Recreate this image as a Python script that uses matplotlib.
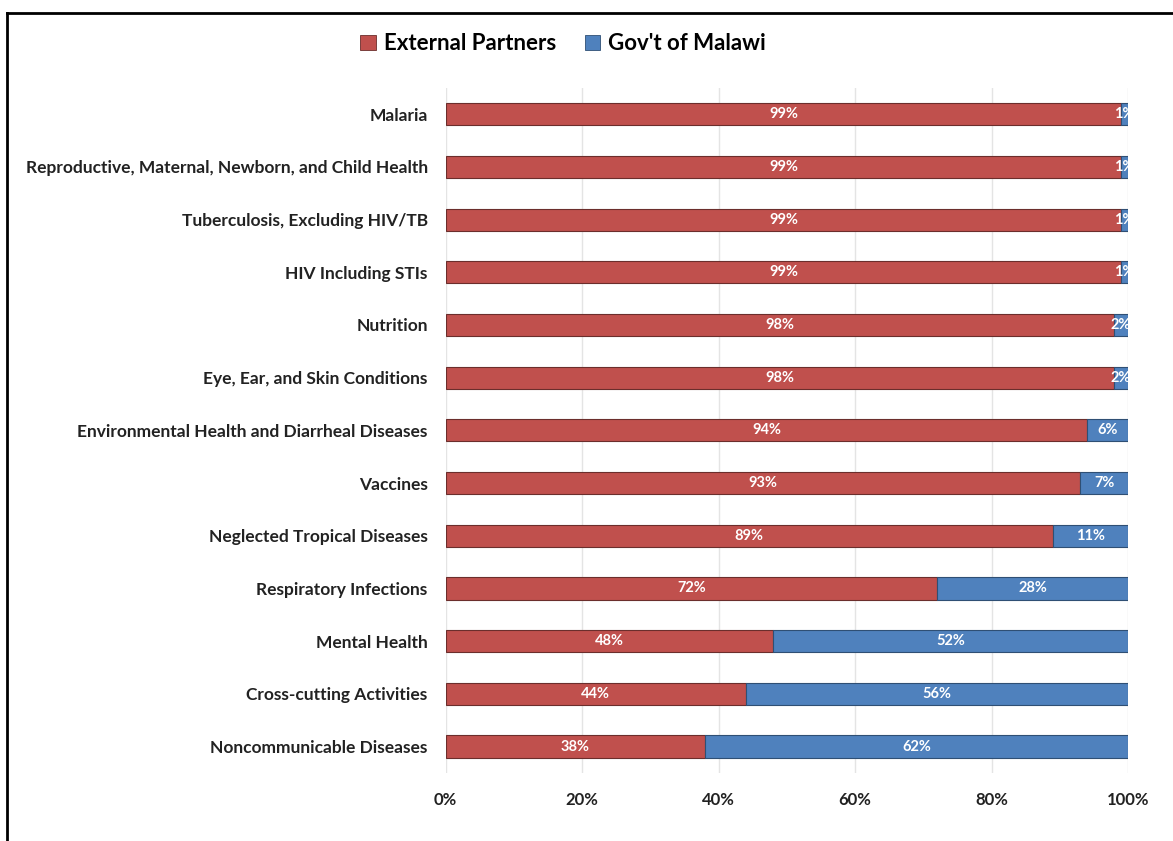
import matplotlib
matplotlib.use("Agg")
import matplotlib.pyplot as plt
from matplotlib.lines import Line2D
from matplotlib.patches import Patch

plt.rcParams['font.family'] = ['Lato', 'DejaVu Sans']

categories = ["Malaria",
              "Reproductive, Maternal, Newborn, and Child Health",
              "Tuberculosis, Excluding HIV/TB",
              "HIV Including STIs",
              "Nutrition",
              "Eye, Ear, and Skin Conditions",
              "Environmental Health and Diarrheal Diseases",
              "Vaccines",
              "Neglected Tropical Diseases",
              "Respiratory Infections",
              "Mental Health",
              "Cross-cutting Activities",
              "Noncommunicable Diseases"]
external = [99, 99, 99, 99, 98, 98, 94, 93, 89, 72, 48, 44, 38]
government = [1, 1, 1, 1, 2, 2, 6, 7, 11, 28, 52, 56, 62]
xticks = [0, 20, 40, 60, 80, 100]

red = "#C0504D"
blue = "#4F81BD"

fig = plt.figure(figsize=(11.73, 8.41), dpi=100)
ax = fig.add_axes([0.380, 0.081, 0.5816, 0.8145])

y = list(range(len(categories)))
ax.barh(y, external, height=0.42, color=red, edgecolor="#6b2e2c", linewidth=0.8, zorder=3)
ax.barh(y, government, left=external, height=0.42, color=blue, edgecolor="#2f4f74",
        linewidth=0.8, zorder=3)

for i in y:
    ax.text(external[i] / 2, i, f"{external[i]}%", ha="center", va="center",
            color="white", fontsize=10.5, fontweight="bold", zorder=4)
    ax.text(external[i] + government[i] / 2, i, f"{government[i]}%", ha="center",
            va="center", color="white", fontsize=10.5, fontweight="bold", zorder=4)

ax.set_ylim(len(categories) - 0.5, -0.5)
ax.set_xlim(0, 100)
ax.set_yticks(y)
ax.set_yticklabels(categories, fontsize=12.5, fontweight="bold", color="#222222")
ax.set_xticks(xticks)
ax.set_xticklabels([f"{t}%" for t in xticks], fontsize=12, fontweight="bold", color="#222222")
ax.tick_params(axis="both", length=0)
ax.tick_params(axis="y", pad=13)
ax.tick_params(axis="x", pad=14)
ax.grid(axis="x", color="#e4e4e4", linewidth=1, zorder=0)
for s in ax.spines.values():
    s.set_visible(False)

handles = [Patch(facecolor=red, edgecolor="#6b2e2c", linewidth=0.6),
           Patch(facecolor=blue, edgecolor="#2f4f74", linewidth=0.6)]
fig.legend(handles, ["External Partners", "Gov't of Malawi"], loc="center",
           bbox_to_anchor=(0.480, 0.948), ncol=2, frameon=False,
           prop={"size": 16, "weight": "bold"}, handlelength=0.7, handleheight=0.7,
           handletextpad=0.35, columnspacing=1.3)

# frame along the top and left edge
fig.add_artist(Line2D([0.006, 1.0], [0.985, 0.985], color="black", linewidth=2))
fig.add_artist(Line2D([0.006, 0.006], [0.0, 0.985], color="black", linewidth=2))

fig.savefig("out.png", dpi=100)
